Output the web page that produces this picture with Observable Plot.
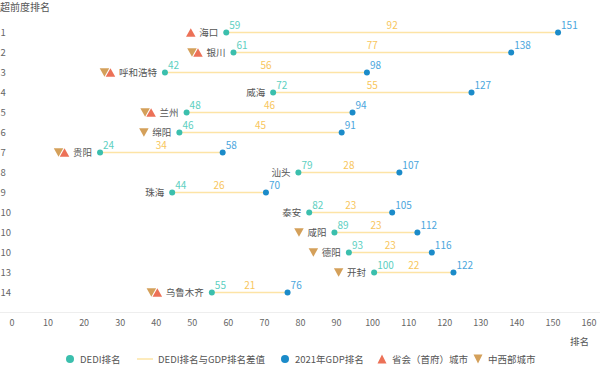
<!DOCTYPE html>
<html>
<head>
<meta charset="utf-8">
<script src="https://cdn.jsdelivr.net/npm/d3@7"></script>
<script src="https://cdn.jsdelivr.net/npm/@observablehq/plot@0.6"></script>
<style>
  html, body { margin: 0; padding: 0; background: #fff; width: 600px; height: 379px; overflow: hidden; }
  body { font-family: "Noto Sans CJK SC", "Noto Sans", sans-serif; color: #555; }
  #title { height: 14px; font-size: 10px; line-height: 14px; color: #555; white-space: nowrap; }
  #chart { height: 335px; }
  #chart svg { display: block; }
  #legend { position: relative; height: 30px; }
  .lg { position: absolute; top: 3px; font-size: 9.5px; line-height: 14px; color: #555; white-space: nowrap; }
  .sw { position: absolute; display: block; }
</style>
</head>
<body>
<div id="title">超前度排名</div>
<div id="chart"></div>
<div id="legend"></div>
<script>
// ---- data ----
const ranks = ["1","2","3","4","5","6","7","8","9","10","10","10","13","14"];
const cities = ["海口","银川","呼和浩特","威海","兰州","绵阳","贵阳","汕头","珠海","泰安","咸阳","德阳","开封","乌鲁木齐"];
const dediRank = [59,61,42,72,48,46,24,79,44,82,89,93,100,55];
const gdpRank = [151,138,98,127,94,91,58,107,70,105,112,116,122,76];
const rankGap = [92,77,56,55,46,45,34,28,26,23,23,23,22,21];
const isCapital = [true,true,true,false,true,false,true,false,false,false,false,false,false,true];
const isMidWest = [false,true,true,false,true,true,true,false,false,false,true,true,true,true];
const xTicks = [0,10,20,30,40,50,60,70,80,90,100,110,120,130,140,150,160];
const legendItems = ["DEDI排名","DEDI排名与GDP排名差值","2021年GDP排名","省会（首府）城市","中西部城市"];

// colours
const C = {
  dedi: "#3bbfad", dediText: "#5ccfc1",
  gdp: "#1b8bc9", gdpText: "#4aa6dd",
  gap: "#fde4a6", gapText: "#f8c65c",
  up: "#ec7157", down: "#d4a05a",
  name: "#555", tick: "#666"
};

const data = cities.map((name, i) => ({
  i, name, rank: ranks[i], dedi: dediRank[i], gdp: gdpRank[i], gap: rankGap[i],
  capital: isCapital[i], midwest: isMidWest[i]
}));

const triUp = { draw(ctx) { const s = 9.5, h = 8.5; ctx.moveTo(0, -h/2); ctx.lineTo(s/2, h/2); ctx.lineTo(-s/2, h/2); ctx.closePath(); } };
const triDown = { draw(ctx) { const s = 9.5, h = 8.5; ctx.moveTo(-s/2, -h/2); ctx.lineTo(s/2, -h/2); ctx.lineTo(0, h/2); ctx.closePath(); } };

const nameFs = 9.5, nameGap = 8, symGap = 8.5, pairGap = 6;

const symbolMarks = [];
for (const n of [2, 4]) {
  for (const both of [false, true]) {
    const sel = data.filter(d => d.midwest && d.name.length === n && d.capital === both);
    symbolMarks.push(Plot.dot(sel, {x: "dedi", y: "i", symbol: triDown, fill: C.down, stroke: "none",
      dx: -(nameGap + n * nameFs + symGap + (both ? pairGap : 0))}));
  }
}
for (const n of [2, 4]) {
  const sel = data.filter(d => d.capital && d.name.length === n);
  symbolMarks.push(Plot.dot(sel, {x: "dedi", y: "i", symbol: triUp, fill: C.up, stroke: "none",
    dx: -(nameGap + n * nameFs + symGap)}));
}

const H = 335, MB = 37;
const chart = Plot.plot({
  width: 600,
  height: H,
  marginLeft: 13,
  marginRight: 10,
  marginTop: 0,
  marginBottom: MB,
  style: { fontFamily: "'Noto Sans CJK SC', 'Noto Sans', sans-serif", fontSize: "9px", color: C.tick, background: "#fff" },
  x: { domain: [0, 160], ticks: xTicks, label: null },
  y: { type: "point", domain: d3.range(ranks.length), range: [12, 283], padding: 0, axis: null },
  marks: [
    Plot.axisX({ticks: xTicks, tickSize: 0, tickPadding: 7, label: null, fill: C.tick, dx: -1.5, fontSize: 9}),
    Plot.text(data, {frameAnchor: "left", dx: -13, y: "i", text: "rank", textAnchor: "start", fill: C.tick, fontSize: 9.5}),
    Plot.ruleY(data, {y: "i", x1: "dedi", x2: "gdp", stroke: C.gap, strokeWidth: 1.6}),
    Plot.dot(data, {x: "dedi", y: "i", r: 3, fill: C.dedi}),
    Plot.dot(data, {x: "gdp", y: "i", r: 3, fill: C.gdp}),
    Plot.text(data, {x: "dedi", y: "i", text: d => String(d.dedi), textAnchor: "start", dx: 3, dy: -7, fill: C.dediText, fontSize: 10}),
    Plot.text(data, {x: "gdp", y: "i", text: d => String(d.gdp), textAnchor: "start", dx: 3, dy: -7, fill: C.gdpText, fontSize: 10}),
    Plot.text(data, {x: d => (d.dedi + d.gdp) / 2, y: "i", text: d => String(d.gap), dy: -7, fill: C.gapText, fontSize: 10}),
    Plot.text(data, {x: "dedi", y: "i", text: "name", textAnchor: "end", dx: -nameGap, fill: C.name, fontSize: nameFs}),
    ...symbolMarks
  ]
});

const svg = d3.select(chart);
svg.insert("line", ":first-child")
  .attr("x1", 0).attr("x2", 600).attr("y1", H - MB + 0.5).attr("y2", H - MB + 0.5)
  .attr("stroke", "#eeeeee");
svg.append("text")
  .attr("x", 589).attr("y", H - MB + 30).attr("text-anchor", "end").attr("dy", "0.32em")
  .attr("fill", C.name).attr("font-size", 9.5).text("排名");

document.getElementById("chart").appendChild(chart);

// ---- legend ----
const legend = document.getElementById("legend");
const swatchX = [70, 145, 285, 382, 478];
const textX = [80, 158, 295, 392, 488];
const swatches = [
  `<svg class="sw" width="10" height="10"><circle cx="5" cy="5" r="4" fill="${C.dedi}"/></svg>`,
  `<svg class="sw" width="16" height="10"><line x1="0" x2="16" y1="5" y2="5" stroke="${C.gap}" stroke-width="1.5"/></svg>`,
  `<svg class="sw" width="10" height="10"><circle cx="5" cy="5" r="4" fill="${C.gdp}"/></svg>`,
  `<svg class="sw" width="10" height="10"><path d="M5,0.5L9.5,9.5L0.5,9.5Z" fill="${C.up}"/></svg>`,
  `<svg class="sw" width="10" height="10"><path d="M0.5,0.5L9.5,0.5L5,9.5Z" fill="${C.down}"/></svg>`
];
const sw = [10, 16, 10, 10, 10];
legendItems.forEach((t, k) => {
  const holder = document.createElement("div");
  holder.innerHTML = swatches[k];
  const s = holder.firstChild;
  s.style.left = (swatchX[k] - sw[k] / 2) + "px";
  s.style.top = "5px";
  legend.appendChild(s);
  const l = document.createElement("div");
  l.className = "lg";
  l.style.left = textX[k] + "px";
  l.textContent = t;
  legend.appendChild(l);
});
</script>
</body>
</html>
